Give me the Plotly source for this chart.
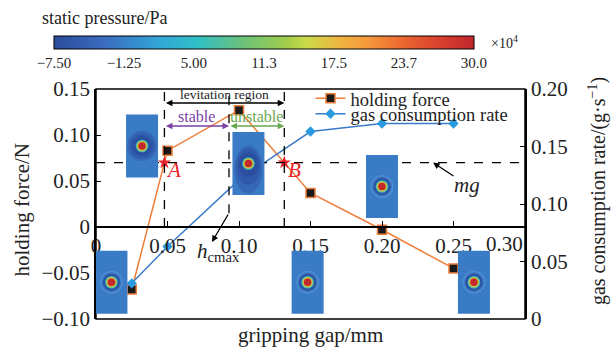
import plotly.graph_objects as go

# ---- data -------------------------------------------------------------
gap_mm = [0.025, 0.05, 0.10, 0.15, 0.20, 0.25]
holding_force = [-0.068, 0.083, 0.127, 0.037, -0.003, -0.045]        # N
gas_rate = [0.031, 0.063, 0.121, 0.163, 0.170, 0.170]                 # g/s
mg_force = 0.07          # weight of the workpiece, N
h_cmax = 0.093           # gap of maximum holding force, mm

x_ticks = [0, 0.05, 0.10, 0.15, 0.20, 0.25, 0.30]
x_ticktext = ["0", "0.05", "0.10", "0.15", "0.20", "0.25", ""]
y_ticks = [-0.10, -0.05, 0, 0.05, 0.10, 0.15]
y_ticktext = ["\u22120.10", "\u22120.05", "0", "0.05", "0.10", "0.15"]
y2_ticks = [0, 0.05, 0.10, 0.15, 0.20]
y2_ticktext = ["0", "0.05", "0.10", "0.15", "0.20"]

cbar_ticks = [-7.50, -1.25, 5.00, 11.25, 17.5, 23.75, 30.0]
cbar_ticktext = ["\u22127.50", "\u22121.25", "5.00", "11.3", "17.5", "23.7", "30.0"]

# pressure-contour thumbnails: (gap, force) anchor of each thumbnail and style
inset_pos = [(0.0322, 0.088, "wide"), (0.1066, 0.069, "tall"),
             (0.200, 0.044, "ring"), (0.0108, -0.060, "ring"),
             (0.148, -0.060, "ring"), (0.2643, -0.060, "ring")]

SERIF = "Liberation Serif"
INK = "#222222"
ORANGE = "#ee7d3a"
BLUE = "#3b7cc9"

jet = [[0.0, "#2b4c9b"], [0.12, "#3a6cbf"], [0.25, "#32a6d8"], [0.34, "#2fbfc6"],
       [0.45, "#6cc27a"], [0.55, "#9fcc4c"], [0.6, "#c9da48"], [0.68, "#f0b540"],
       [0.75, "#f5973b"], [0.84, "#ea6230"], [0.92, "#d8402e"], [1.0, "#c0262e"]]


def cross_mg(i0, i1):
    """gap where the holding-force segment i0-i1 crosses mg"""
    x0, x1 = gap_mm[i0], gap_mm[i1]
    y0, y1 = holding_force[i0], holding_force[i1]
    return x0 + (mg_force - y0) * (x1 - x0) / (y1 - y0)


x_A = cross_mg(0, 1)
x_B = cross_mg(2, 3)

fig = go.Figure()

fig.add_trace(go.Scatter(
    x=gap_mm, y=holding_force, name="holding force", mode="lines+markers",
    line=dict(color=ORANGE, width=1.5),
    marker=dict(symbol="square", size=9, color="#1a1a1a",
                line=dict(color=ORANGE, width=1.5)),
    legend="legend"))
fig.add_trace(go.Scatter(
    x=gap_mm, y=gas_rate, name="gas consumption rate", mode="lines+markers",
    yaxis="y2", line=dict(color=BLUE, width=1.5),
    marker=dict(symbol="diamond", size=8, color="#2a9be0"),
    legend="legend2"))
fig.add_trace(go.Scatter(
    x=[x_A, x_B], y=[mg_force, mg_force], mode="markers", showlegend=False,
    marker=dict(symbol="star", size=10, color="#e8232a")))

# colour bar of the static pressure (x10^4 Pa)
fig.add_trace(go.Scatter(
    x=[0.15], y=[0.0], mode="markers", showlegend=False, hoverinfo="skip",
    marker=dict(size=1, opacity=0, color=[0], cmin=cbar_ticks[0], cmax=cbar_ticks[-1],
                colorscale=jet, showscale=True,
                colorbar=dict(orientation="h", lenmode="pixels", len=420, thickness=13,
                              x=0.3916, xanchor="center", y=1.2304, yanchor="top",
                              xpad=0, ypad=0, outlinewidth=1, outlinecolor="black",
                              tickvals=cbar_ticks, ticktext=cbar_ticktext, ticks="",
                              tickfont=dict(family=SERIF, size=15, color=INK)))))

shapes = []
# mg line and the three vertical guides
shapes.append(dict(type="line", xref="x", yref="y", x0=0, x1=0.30, y0=mg_force, y1=mg_force,
                   line=dict(color="black", width=1.3, dash="dash")))
for xv, ybot in [(x_A, 0), (h_cmax, 0.015), (x_B, 0)]:
    shapes.append(dict(type="line", xref="x", yref="y", x0=xv, x1=xv, y0=ybot, y1=0.15,
                       line=dict(color="black", width=1.3, dash="dash")))
# frame
shapes.append(dict(type="rect", xref="paper", yref="paper", x0=0, x1=1, y0=0, y1=1,
                   line=dict(color="black", width=1.5)))


def pix_shape(kind, cx, cy, hw, hh, color, dy=0):
    return dict(type=kind, xref="x", yref="y", xsizemode="pixel", ysizemode="pixel",
                xanchor=cx, yanchor=cy, x0=-hw, x1=hw, y0=-hh + dy, y1=hh + dy,
                fillcolor=color, line=dict(width=0), layer="above")


for cx, cy, style in inset_pos:
    shapes.append(pix_shape("rect", cx, cy, 16, 31.5, "#3a7bc5"))
    if style == "wide":
        layers = [(15, 15, "#3569b7", 0), (12.5, 12.5, "#2f5bab", 0), (10, 10, "#2b4fa0", 0)]
    elif style == "tall":
        layers = [(14, 24, "#3467b6", -6), (12, 18, "#2f5aaa", -3), (10, 12, "#2b4e9f", -1)]
    else:
        layers = [(11.5, 11.5, "#4d8dd2", 0), (10, 10, "#3a73be", 0), (8.5, 8.5, "#2c53a3", 0)]
    for hw, hh, col, dy in layers:
        shapes.append(pix_shape("circle", cx, cy, hw, hh, col, dy))
    for r, col in [(6.3, "#3fb9bf"), (5.3, "#a6d24a"), (4.6, "#eab63c"), (3.8, "#c22a2c")]:
        shapes.append(pix_shape("circle", cx, cy, r, r, col))


def label(x, y, text, size, color=INK, ref="x", **kw):
    d = dict(x=x, y=y, xref=ref, yref=ref.replace("x", "y"), text=text, showarrow=False,
             xanchor="center", yanchor="middle", font=dict(family=SERIF, size=size, color=color))
    d.update(kw)
    return d


ann = []
arr = dict(showarrow=True, arrowhead=2, arrowsize=1, arrowwidth=1.3, axref="x", ayref="y",
           xref="x", yref="y", text="")
# levitation / stable / unstable spans
ann.append(dict(arr, x=x_B, y=0.1348, ax=x_A, ay=0.1348, arrowside="end+start", arrowcolor="black"))
ann.append(dict(arr, x=h_cmax, y=0.1098, ax=x_A, ay=0.1098, arrowside="end+start", arrowcolor="#7b3fa6"))
ann.append(dict(arr, x=x_B, y=0.1098, ax=h_cmax, ay=0.1098, arrowside="end+start", arrowcolor="#6aa84f"))
ann.append(label((x_A + x_B) / 2, 0.1435, "levitation region", 13.5))
ann.append(label(0.0706, 0.1196, "stable", 16, "#7b3fa6"))
ann.append(label(0.112, 0.1196, "unstable", 16, "#6aa84f"))
# A, B
ann.append(label(0.0545, 0.062, "<i>A</i>", 21, "#e8232a"))
ann.append(label(0.139, 0.062, "<i>B</i>", 21, "#e8232a"))
# h_cmax pointer
ann.append(dict(arr, x=0.0811, y=-0.0163, ax=h_cmax, ay=0.0152, arrowcolor="black"))
ann.append(label(0.0857, -0.027, "<i>h</i><sub>cmax</sub>", 21))
# mg pointer
ann.append(dict(arr, x=0.2357, y=mg_force, ax=0.251, ay=0.0543, arrowcolor="black"))
ann.append(label(0.2594, 0.0457, "<i>mg</i>", 21))
# last x tick label, kept inside the frame
ann.append(label(0.30, 0, "0.30", 21, xanchor="right", yanchor="top", yshift=-3))
# axis titles
ann.append(label(-0.1725, 0.476, "holding force/N", 21, ref="paper", textangle=-90))
ann.append(label(0.499, -0.07, "gripping gap/mm", 21, ref="paper"))
ann.append(label(1.168, 0.5565, "gas consumption rate/(g\u00b7s<sup>\u22121</sup>)", 20,
                 ref="paper", textangle=-90))
# colour bar captions
ann.append(label(-0.1305, 1.3087, "static pressure/Pa", 18, ref="paper", xanchor="left"))
ann.append(label(0.915, 1.205, "\u00d710<sup>4</sup>", 14, ref="paper", xanchor="left"))

tickfont = dict(family=SERIF, size=21, color=INK)
fig.update_layout(
    width=614, height=350, margin=dict(l=96, r=89, t=89, b=31),
    paper_bgcolor="white", plot_bgcolor="white",
    font=dict(family=SERIF, color=INK),
    xaxis=dict(range=[0, 0.30], anchor="free", position=0.4, showline=True,
               linecolor="black", linewidth=1.5, ticks="inside", ticklen=5,
               tickcolor="black", tickvals=x_ticks, ticktext=x_ticktext,
               tickfont=tickfont, showgrid=False, zeroline=False),
    yaxis=dict(range=[-0.10, 0.15], showline=True, linecolor="black", linewidth=1.5,
               ticks="inside", ticklen=5, tickcolor="black", tickvals=y_ticks,
               ticktext=y_ticktext, tickfont=tickfont, showgrid=False, zeroline=False),
    yaxis2=dict(range=[0, 0.20], overlaying="y", side="right", showline=True,
                linecolor="black", linewidth=1.5, ticks="inside", ticklen=5,
                tickcolor="black", tickvals=y2_ticks, ticktext=y2_ticktext,
                tickfont=tickfont, showgrid=False, zeroline=False),
    legend=dict(x=0.50, y=1.04, xanchor="left", yanchor="top", bgcolor="rgba(0,0,0,0)",
                itemwidth=30, font=dict(family=SERIF, size=18.5, color=INK)),
    legend2=dict(x=0.50, y=0.973, xanchor="left", yanchor="top", bgcolor="rgba(0,0,0,0)",
                 itemwidth=30, font=dict(family=SERIF, size=18.5, color=INK)),
    shapes=shapes, annotations=ann, showlegend=True,
)

fig.write_html("out.html")
